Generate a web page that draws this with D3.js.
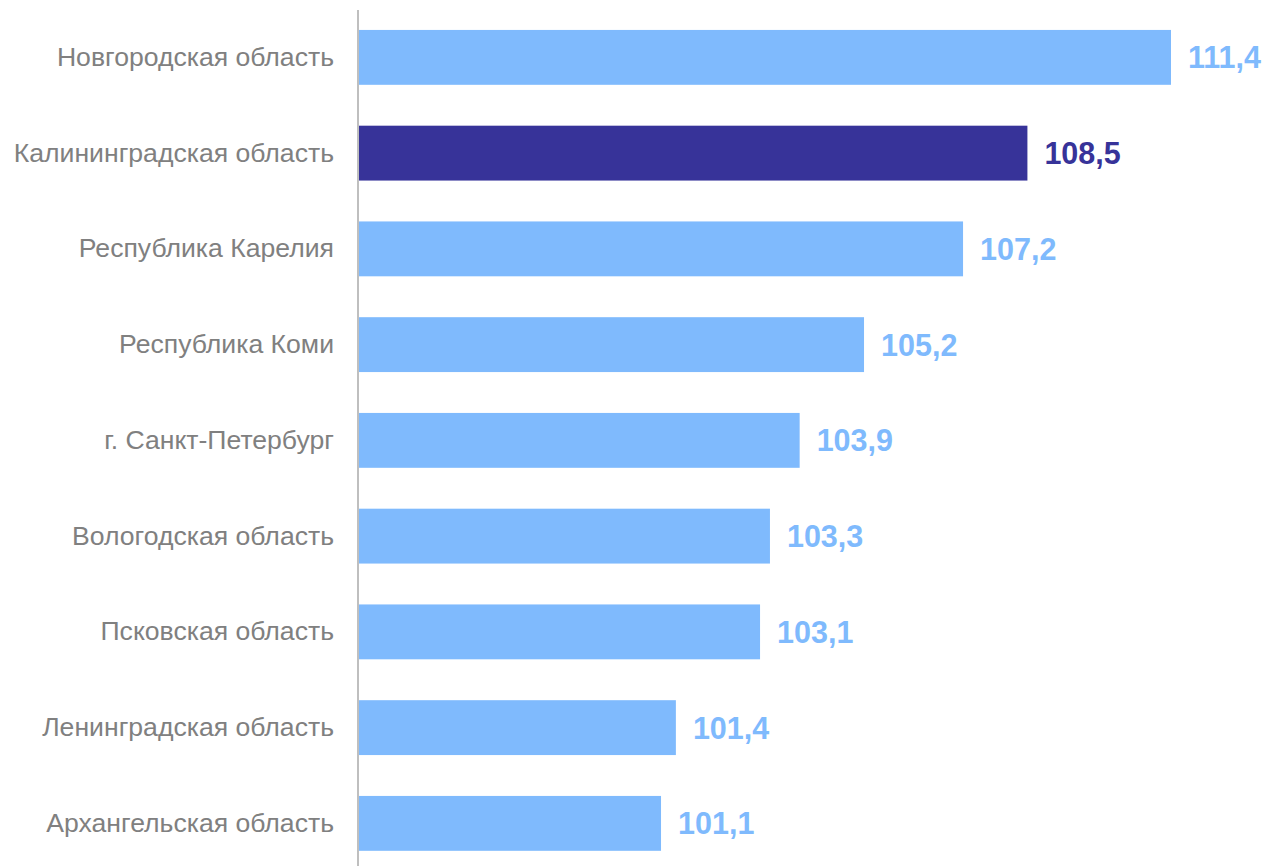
<!DOCTYPE html>
<html>
<head>
<meta charset="utf-8">
<script src="https://cdn.jsdelivr.net/npm/d3@7"></script>
<style>
  body { margin: 0; background: #fff; }
  svg { display: block; }
</style>
</head>
<body>
<div id="chart"></div>
<script>
// данные
const regions = [
  "Новгородская область",
  "Калининградская область",
  "Республика Карелия",
  "Республика Коми",
  "г. Санкт-Петербург",
  "Вологодская область",
  "Псковская область",
  "Ленинградская область",
  "Архангельская область"
];
const values = [111.4, 108.5, 107.2, 105.2, 103.9, 103.3, 103.1, 101.4, 101.1];
const highlighted = "Калининградская область";

const data = regions.map((name, i) => ({name, value: values[i]}));

const width = 1268;
const height = 866;
const margin = ({top: 9.5, right: 97, bottom: -5.25, left: 359});

const colorLight = "#7fbafd";
const colorDark = "#373399";

const x = d3.scaleLinear()
  .domain([95, 111.4])
  .range([margin.left, width - margin.right]);

const y = d3.scaleBand()
  .domain(regions)
  .range([margin.top, height - margin.bottom])
  .paddingInner(0.427)
  .paddingOuter(0.2135);

const svg = d3.select("#chart").append("svg")
  .attr("width", width)
  .attr("height", height)
  .attr("viewBox", [0, 0, width, height]);

svg.append("g")
  .selectAll("rect")
  .data(data)
  .join("rect")
    .attr("x", x(95))
    .attr("y", d => y(d.name))
    .attr("width", d => x(d.value) - x(95))
    .attr("height", y.bandwidth())
    .attr("fill", d => d.name === highlighted ? colorDark : colorLight);

// подписи значений
svg.append("g")
    .style("font", "bold 30.5px 'Liberation Sans', Arial, sans-serif")
  .selectAll("text")
  .data(data)
  .join("text")
    .attr("x", d => x(d.value) + 17)
    .attr("y", d => y(d.name) + y.bandwidth() / 2)
    .attr("dy", "0.36em")
    .attr("fill", d => d.name === highlighted ? colorDark : colorLight)
    .text(d => d3.format(".1f")(d.value).replace(".", ","));

// ось категорий
const yAxis = g => g
    .attr("transform", `translate(${margin.left - 1},0)`)
    .call(d3.axisLeft(y).tickSize(0).tickPadding(24))
    .call(g => g.select(".domain").remove())
    .call(g => g.selectAll("text")
        .attr("fill", "#808080")
        .style("font", "26.6px 'Liberation Sans', Arial, sans-serif"));

svg.append("g").call(yAxis);

svg.append("line")
  .attr("x1", margin.left - 1)
  .attr("x2", margin.left - 1)
  .attr("y1", 10)
  .attr("y2", height)
  .attr("stroke", "#bfbfbf")
  .attr("stroke-width", 2);
</script>
</body>
</html>
